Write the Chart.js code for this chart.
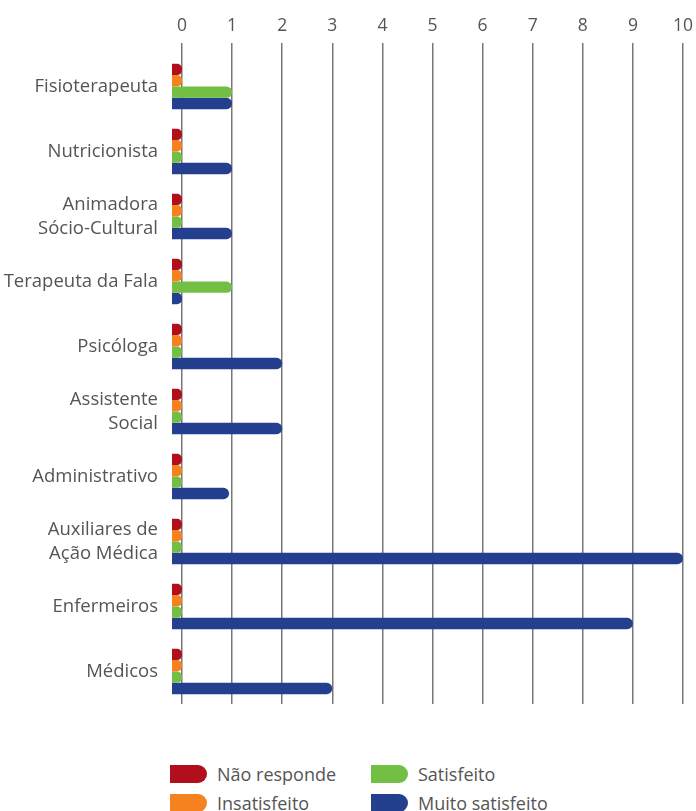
<!DOCTYPE html>
<html>
<head>
<meta charset="utf-8">
<script src="https://cdn.jsdelivr.net/npm/chart.js@4/dist/chart.umd.min.js"></script>
<style>
  body { margin: 0; background: #fff; font-family: "Open Sans", sans-serif; }
  #wrap { position: relative; width: 696px; height: 811px; }
  #chart_box { position: absolute; left: 0; top: 0; width: 696px; height: 730px; }
  #legend { position: absolute; left: 170px; top: 762px; width: 420px; }
  .item { position: absolute; display: flex; align-items: center; color: #555; font-size: 18px; }
  .sw { width: 37px; height: 18px; border-radius: 0 9px 9px 0; margin-right: 10px; }
</style>
</head>
<body>
<div id="wrap">
  <div id="chart_box"><canvas id="bar_chart"></canvas></div>
  <div id="legend"></div>
</div>
<script>
var categories = [
    "Fisioterapeuta",
    "Nutricionista",
    ["Animadora", "Sócio-Cultural"],
    "Terapeuta da Fala",
    "Psicóloga",
    ["Assistente", "Social"],
    "Administrativo",
    ["Auxiliares de", "Ação Médica"],
    "Enfermeiros",
    "Médicos",
];
var naoResponde = [0, 0, 0, 0, 0, 0, 0, 0, 0, 0];
var insatisfeito = [0, 0, 0, 0, 0, 0, 0, 0, 0, 0];
var satisfeito = [1, 0, 0, 1, 0, 0, 0, 0, 0, 0];
var muitoSatisfeito = [1, 1, 1, 0, 2, 2, 0.94, 10, 9, 3];
var xTicks = [0, 1, 2, 3, 4, 5, 6, 7, 8, 9, 10];

var seriesNames = ["Não responde", "Insatisfeito", "Satisfeito", "Muito satisfeito"];
var seriesColors = ["#b10f1b", "#f5821f", "#72bf44", "#243f8e"];
var seriesData = [naoResponde, insatisfeito, satisfeito, muitoSatisfeito];

var datasets = seriesData.map(function (d, i) {
    return {
        label: seriesNames[i],
        data: d,
        base: -0.2,
        backgroundColor: seriesColors[i],
        borderRadius: 20,
        borderSkipped: "start",
        barPercentage: 1,
        categoryPercentage: 0.7,
    };
});

new Chart(document.getElementById("bar_chart").getContext("2d"), {
    type: "bar",
    data: { labels: categories, datasets: datasets },
    options: {
        indexAxis: "y",
        responsive: true,
        maintainAspectRatio: false,
        animation: false,
        layout: { padding: { left: 0, right: 13, top: 0, bottom: 24 } },
        plugins: { legend: { display: false }, tooltip: { enabled: true } },
        scales: {
            x: {
                position: "top",
                min: -0.2,
                max: 10,
                afterBuildTicks: function (scale) {
                    scale.ticks = xTicks.map(function (v) { return { value: v }; });
                },
                afterFit: function (scale) {
                    scale.height = 54;
                    scale.paddingRight = 0;
                    scale.paddingLeft = 0;
                },
                grid: { color: "#777", lineWidth: 1.5, tickLength: 11, drawTicks: true },
                border: { display: false },
                ticks: {
                    color: "#555",
                    padding: 6,
                    font: { family: "Open Sans", size: 17.5 },
                },
            },
            y: {
                afterFit: function (scale) { scale.width = 172; },
                grid: { display: false, drawTicks: false },
                border: { display: false },
                ticks: {
                    color: "#555",
                    padding: 14,
                    font: { family: "Open Sans", size: 18.5, lineHeight: 1.3 },
                },
            },
        },
    },
});

var legend = document.getElementById("legend");
var order = [0, 2, 1, 3];
order.forEach(function (s, k) {
    var col = k % 2, row = Math.floor(k / 2);
    var el = document.createElement("div");
    el.className = "item";
    el.style.left = col * 201 + "px";
    el.style.top = row * 29 + "px";
    el.innerHTML = '<span class="sw" style="background:' + seriesColors[s] + '"></span>' + seriesNames[s];
    legend.appendChild(el);
});
</script>
</body>
</html>
